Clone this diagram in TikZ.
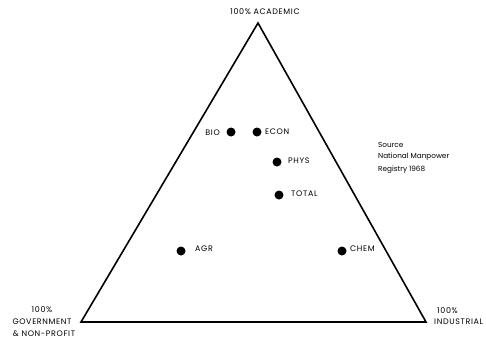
\documentclass[tikz,border=0pt]{standalone}
\usepackage{fontspec}
\setmainfont{Poppins}
\begin{document}
\begin{tikzpicture}[x=1bp,y=-1bp,
  lbl/.style={font=\fontsize{8}{12}\selectfont\addfontfeature{LetterSpace=8}, inner sep=0pt, text=black},
  note/.style={font=\fontsize{7.3}{12}\selectfont, inner sep=0pt, text=black, anchor=west},
  pt/.style={circle, fill=black, minimum size=9bp, inner sep=0pt},
  side/.style={line width=1.6bp, line join=miter}]
\useasboundingbox (0,0) rectangle (486,339);
% triangle corners
\coordinate (A) at (258,23);
\coordinate (G) at (81,322);
\coordinate (I) at (426,322);
\draw[side] (A) -- (I) -- (G) -- cycle;
% corner labels
\node[lbl] (la) at (265,12) {100\% ACADEMIC};
\node[lbl] (lg1) at (42,310) {100\%};
\node[lbl] (lg2) at (42,322) {GOVERNMENT};
\node[lbl] (lg3) at (44,334) {\& NON-PROFIT};
\node[lbl, anchor=west] (li1) at (437,311) {100\%};
\node[lbl, anchor=west] (li2) at (434,322) {INDUSTRIAL};
% data points
\node[pt] (bio) at (231,132) {};
\node[pt] (econ) at (257,132) {};
\node[pt] (phys) at (277,162) {};
\node[pt] (total) at (279,195) {};
\node[pt] (agr) at (181,251) {};
\node[pt] (chem) at (342,251) {};
\node[lbl, anchor=east] (tbio) at (220,133) {BIO};
\node[lbl, anchor=west] (tecon) at (265,132) {ECON};
\node[lbl, anchor=west] (tphys) at (288,161) {PHYS};
\node[lbl, anchor=west] (ttotal) at (291,194) {TOTAL};
\node[lbl, anchor=west] (tagr) at (195,249) {AGR};
\node[lbl, anchor=west] (tchem) at (350,249) {CHEM};
% source note
\node[note] (src1) at (378,145) {Source};
\node[note] (src2) at (378,157) {National Manpower};
\node[note] (src3) at (378,170) {Registry 1968};
\end{tikzpicture}
\end{document}
